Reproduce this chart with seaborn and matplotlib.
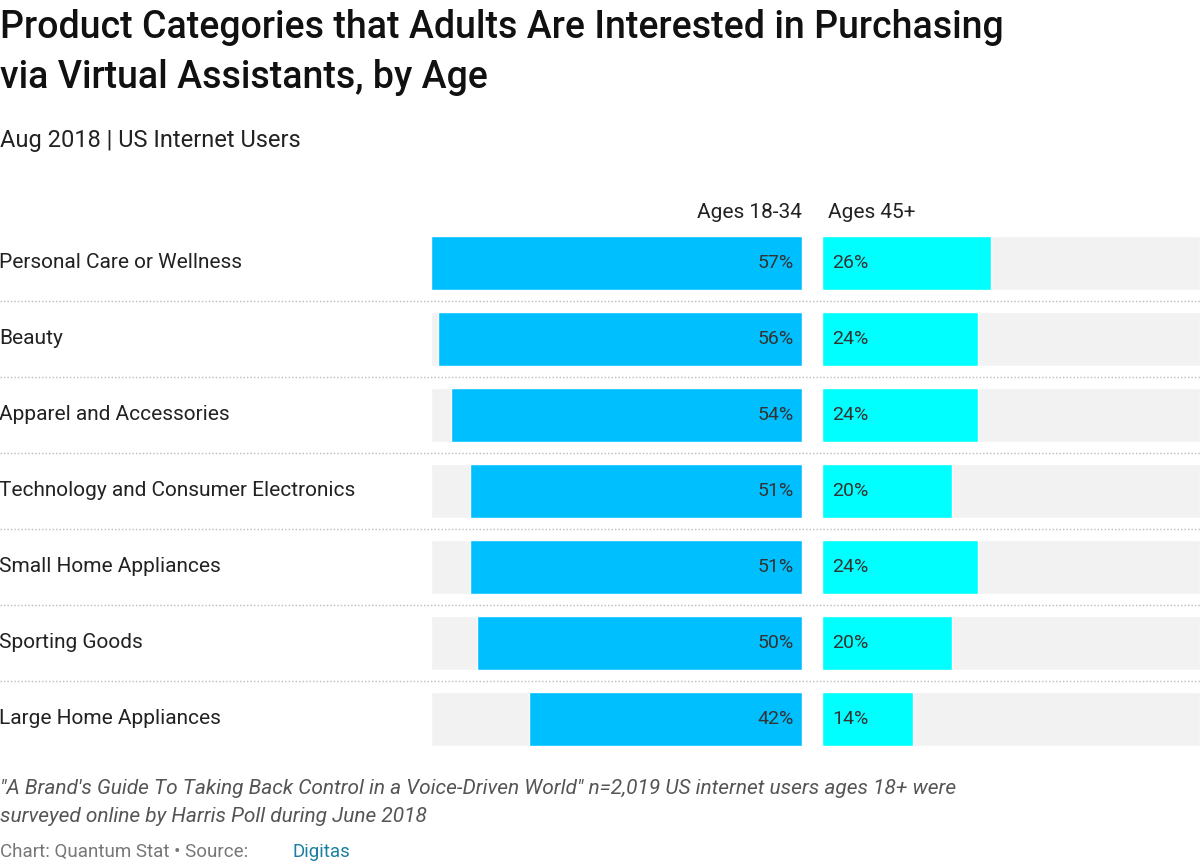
import matplotlib
matplotlib.use("Agg")
import matplotlib.pyplot as plt
import seaborn as sns
import pandas as pd
from matplotlib.lines import Line2D

categories = ["Personal Care or Wellness", "Beauty", "Apparel and Accessories",
              "Technology and Consumer Electronics", "Small Home Appliances",
              "Sporting Goods", "Large Home Appliances"]
ages_18_34 = [57, 56, 54, 51, 51, 50, 42]
ages_45 = [26, 24, 24, 20, 24, 20, 14]

df = pd.DataFrame({"cat": categories, "young": ages_18_34, "old": ages_45})

sns.set_style("white")
plt.rcParams["font.family"] = ["Roboto", "DejaVu Sans"]

W, H = 1200, 868
fig = plt.figure(figsize=(12, 8.68), dpi=100)

def px_ax(x0, x1, y0, y1):
    return fig.add_axes([x0 / W, 1 - y1 / H, (x1 - x0) / W, (y1 - y0) / H])

top, bot = 225, 757
ax_l = px_ax(431, 802, top, bot)
ax_r = px_ax(822, 1200, top, bot)
bar_h = 54 / 76

for ax, col, color, xmax in [(ax_l, "young", "#00bfff", 57), (ax_r, "old", "#00ffff", 58)]:
    ax.barh(range(len(df)), [xmax] * len(df), height=bar_h, color="#f2f2f2", zorder=0)
    sns.barplot(data=df, x=col, y="cat", orient="h", color=color, width=bar_h,
                saturation=1, ax=ax, zorder=2)
    ax.set_xlim(0, xmax)
    ax.set_ylim(len(df) - 0.5, -0.5)
    ax.axis("off")
ax_l.invert_xaxis()

for i, (a, b) in enumerate(zip(ages_18_34, ages_45)):
    ax_l.text(a - a + 1.3, i, f"{a}%", ha="right", va="center", fontsize=14, color="#333333", zorder=3)
    ax_r.text(1.6, i, f"{b}%", ha="left", va="center", fontsize=14, color="#333333", zorder=3)
    ax_l.text(1.02 * 0 + 57 + 66.3, i, categories[i], ha="left", va="center", fontsize=15,
              color="#222222", clip_on=False)

for k in range(1, len(df)):
    y = 1 - (top + 76 * k) / H
    fig.add_artist(Line2D([0, 1], [y, y], transform=fig.transFigure, color="#bbbbbb",
                          linestyle=(0, (1, 1.5)), linewidth=1))

fig.text(802 / W, 1 - 212 / H, "Ages 18-34", ha="right", va="center", fontsize=15, color="#222222")
fig.text(828 / W, 1 - 212 / H, "Ages 45+", ha="left", va="center", fontsize=15, color="#222222")

fig.text(0, 1 - 27 / H, "Product Categories that Adults Are Interested in Purchasing",
         fontsize=27, fontweight="medium", color="#111111", va="center")
fig.text(0, 1 - 78 / H, "via Virtual Assistants, by Age",
         fontsize=27, fontweight="medium", color="#111111", va="center")
fig.text(0, 1 - 140 / H, "Aug 2018 | US Internet Users", fontsize=17, color="#222222", va="center")

fig.text(0, 1 - 788 / H, "\"A Brand's Guide To Taking Back Control in a Voice-Driven World\" n=2,019 US internet users ages 18+ were",
         fontsize=15, style="italic", color="#555555", va="center")
fig.text(0, 1 - 816 / H, "surveyed online by Harris Poll during June 2018",
         fontsize=15, style="italic", color="#555555", va="center")
t = fig.text(0, 1 - 852 / H, "Chart: Quantum Stat • Source: ", fontsize=13.5, color="#777777", va="center")
fig.text(292 / W, 1 - 852 / H, "Digitas", fontsize=13.5, color="#1a7fa0", va="center")

fig.savefig("out.png", dpi=100)
